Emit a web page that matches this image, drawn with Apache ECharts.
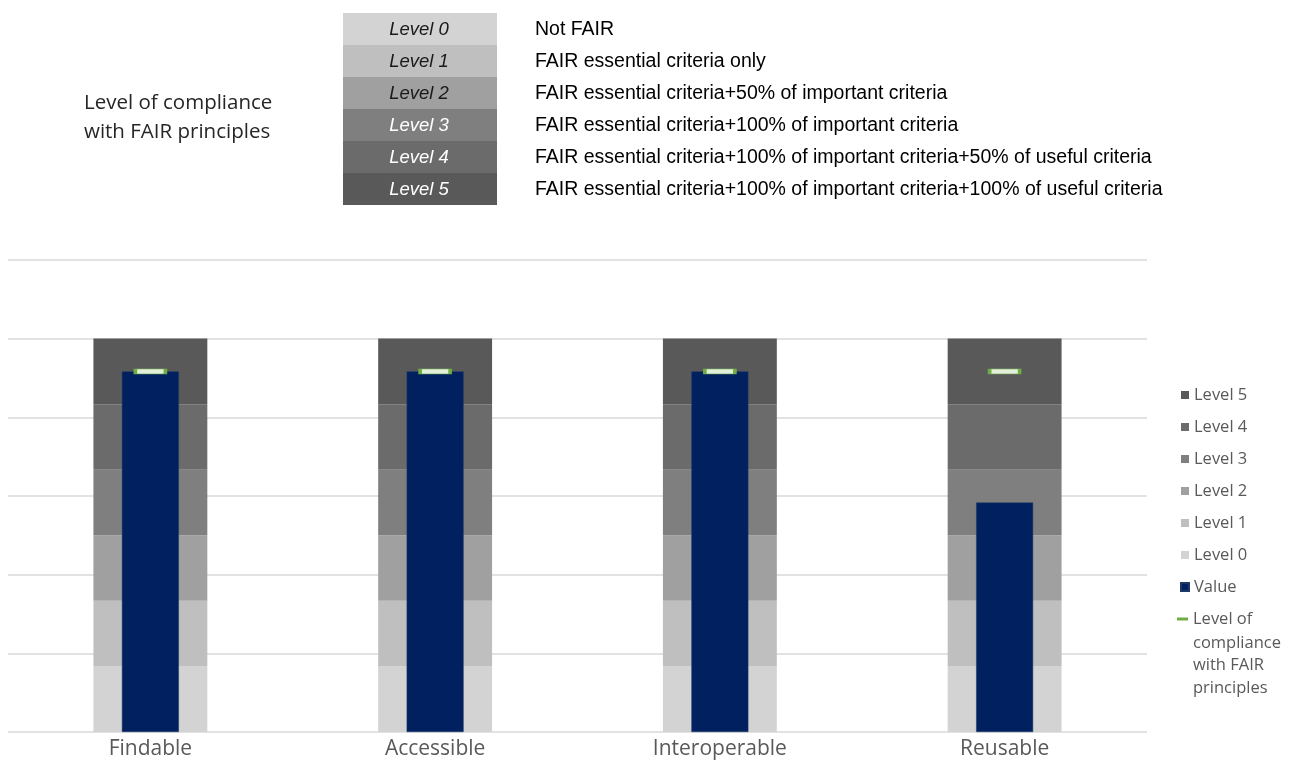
<!DOCTYPE html>
<html>
<head>
<meta charset="utf-8">
<title>FAIR compliance</title>
<script src="https://cdn.jsdelivr.net/npm/echarts@6/dist/echarts.min.js"></script>
<style>
  html, body { margin: 0; padding: 0; background: #fff; }
  #chart { width: 1292px; height: 760px; }
</style>
</head>
<body>
<div id="chart"></div>
<script>
// categories and values
var categories = ["Findable", "Accessible", "Interoperable", "Reusable"];
var levelNames = ["Level 0", "Level 1", "Level 2", "Level 3", "Level 4", "Level 5"];
var levelBand = [16.67, 16.67, 16.67, 16.67];
var values = [91.67, 91.67, 91.67, 58.33];
var compliance = [91.67, 91.67, 91.67, 91.67];
var levelDescriptions = [
  "Not FAIR",
  "FAIR essential criteria only",
  "FAIR essential criteria+50% of important criteria",
  "FAIR essential criteria+100% of important criteria",
  "FAIR essential criteria+100% of important criteria+50% of useful criteria",
  "FAIR essential criteria+100% of important criteria+100% of useful criteria"
];
var levelColors = ["#d3d3d3", "#bfbfbf", "#a0a0a0", "#7f7f7f", "#6b6b6b", "#595959"];

var chart = echarts.init(document.getElementById("chart"));

var series = [];
levelNames.forEach(function (name, i) {
  series.push({
    name: name,
    type: "bar",
    stack: "levels",
    xAxisIndex: 0,
    barWidth: "40%",
    data: levelBand,
    itemStyle: { color: levelColors[i] },
    emphasis: { disabled: true }
  });
});
series.push({
  name: "Value",
  type: "bar",
  xAxisIndex: 1,
  barWidth: "20%",
  data: values,
  itemStyle: { color: "#002060", borderColor: "#1f3864", borderWidth: 0.5 },
  z: 3
});
series.push({
  name: "Level of compliance with FAIR principles",
  type: "scatter",
  xAxisIndex: 0,
  symbol: "rect",
  symbolSize: [30, 5],
  data: compliance,
  itemStyle: { color: "#e2f0d9", borderColor: "#70ad47", borderWidth: 1.5, opacity: 1 },
  z: 5
});

// the small table at the top
var graphics = [];
levelNames.forEach(function (name, i) {
  graphics.push({
    type: "rect",
    left: 343, top: 13 + i * 32,
    shape: { width: 154, height: 32 },
    style: { fill: levelColors[i] }
  });
  graphics.push({
    type: "text",
    x: 419, y: 30 + i * 32,
    style: {
      text: name, fontFamily: "Liberation Sans", fontStyle: "italic", fontSize: 18.5,
      fill: i < 3 ? "#1a1a1a" : "#ffffff", align: "center", verticalAlign: "middle"
    }
  });
  graphics.push({
    type: "text",
    x: 535, y: 30 + i * 32,
    style: {
      text: levelDescriptions[i], fontFamily: "Liberation Sans", fontSize: 19.5,
      fill: "#000000", align: "left", verticalAlign: "middle"
    }
  });
});
graphics.push({
  type: "text",
  x: 84, y: 89,
  style: {
    text: "Level of compliance\nwith FAIR principles", fontFamily: "Open Sans", fontSize: 20.5,
    lineHeight: 29, fill: "#262626", align: "left"
  }
});
graphics.push({
  type: "text",
  x: 1193, y: 632,
  style: {
    text: "compliance\nwith FAIR\nprinciples", fontFamily: "Open Sans", fontSize: 16.5,
    lineHeight: 22.5, fill: "#595959", align: "left"
  }
});

var option = {
  animation: false,
  grid: { left: 8, right: 145, top: 260, bottom: 28, outerBoundsMode: "none" },
  xAxis: [{
    type: "category",
    data: categories,
    axisLine: { show: false },
    axisTick: { show: false },
    axisLabel: { fontFamily: "Open Sans", fontSize: 21, color: "#595959", margin: 7 }
  }, {
    type: "category",
    data: categories,
    show: false
  }],
  yAxis: {
    type: "value",
    min: 0, max: 120, interval: 20,
    axisLabel: { show: false },
    axisLine: { show: false },
    axisTick: { show: false },
    splitLine: { lineStyle: { color: "#d9d9d9", width: 1.5 } }
  },
  legend: [{
    orient: "vertical",
    left: 1180, top: 383,
    padding: 0,
    itemWidth: 8, itemHeight: 8, itemGap: 8,
    icon: "rect",
    selectedMode: false,
    data: ["Level 5", "Level 4", "Level 3", "Level 2", "Level 1", "Level 0", "Value"],
    textStyle: { fontFamily: "Open Sans", fontSize: 16.5, color: "#595959", lineHeight: 24 }
  }, {
    orient: "vertical",
    left: 1177, top: 607,
    padding: 0,
    itemWidth: 11, itemHeight: 3,
    icon: "rect",
    selectedMode: false,
    data: ["Level of compliance with FAIR principles"],
    formatter: function () { return "Level of"; },
    itemStyle: { color: "#70ad47", borderWidth: 0 },
    textStyle: { fontFamily: "Open Sans", fontSize: 16.5, color: "#595959", lineHeight: 24 }
  }],
  graphic: graphics,
  series: series
};

chart.setOption(option);
window.onresize = function () { chart.resize(); };
</script>
</body>
</html>
